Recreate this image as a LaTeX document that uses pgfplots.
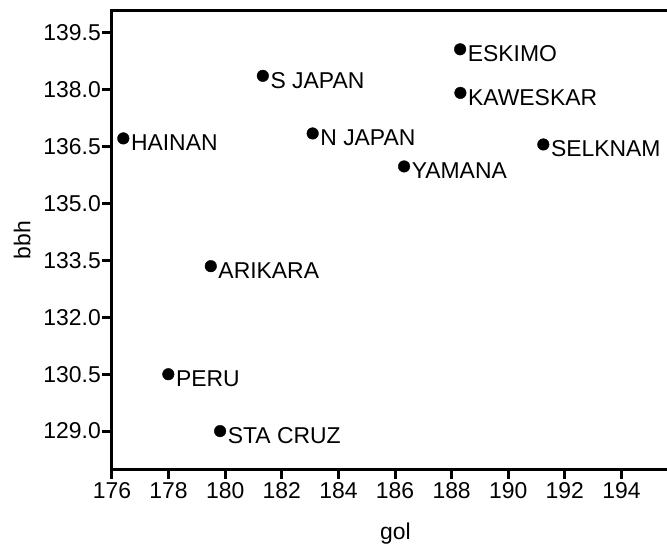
\documentclass[border=0pt]{standalone}
\usepackage{fontspec}
\setmainfont{Liberation Sans}
\usepackage{pgfplots}
\usepackage{pgfplotstable}
\pgfplotsset{compat=1.18}

% gol / bbh means per population
\pgfplotstableread[col sep=comma]{
x,y,label
176.40,136.72,HAINAN
181.33,138.37,S JAPAN
183.09,136.85,N JAPAN
188.30,139.07,ESKIMO
188.31,137.92,KAWESKAR
186.32,135.98,YAMANA
191.24,136.56,SELKNAM
179.49,133.35,ARIKARA
177.99,130.50,PERU
179.82,129.00,STA CRUZ
}\pops

\begin{document}
\begin{tikzpicture}[font=\fontsize{23}{27}\selectfont]
\begin{axis}[
  at={(0,0)}, anchor=south west,
  scale only axis,
  width=555bp, height=458bp,
  xmin=176, xmax=195.61,
  ymin=128.0, ymax=140.08,
  axis lines=left,
  axis line style={-, line width=3bp, black},
  tick align=outside,
  major tick length=10bp,
  tick style={line width=3bp, black},
  xtick={176,178,...,194},
  ytick={129,130.5,...,139.5},
  /pgf/number format/assume math mode=true,
  yticklabel style={inner sep=1bp, /pgf/number format/.cd, fixed, fixed zerofill, precision=1},
  xticklabel style={/pgf/number format/.cd, set thousands separator={}},
  xlabel={gol},
  ylabel={bbh},
  every axis x label/.style={at={(axis description cs:0.5,0)}, anchor=base, xshift=6bp, yshift=-70bp},
  every axis y label/.style={at={(axis description cs:-0.162,0.5)}, anchor=center, rotate=90},
  clip=false,
]
  \addplot[only marks, mark=*, mark size=5.8bp, black,
    nodes near coords, point meta=explicit symbolic,
    every node near coord/.style={anchor=base west, inner sep=0pt, xshift=7.5bp, yshift=-12.5bp, black}]
    table[x=x, y=y, meta=label] {\pops};
  \draw[line width=3bp, line cap=rect] (rel axis cs:0,1) -- (rel axis cs:1.02,1);
\end{axis}
\pgfresetboundingbox
\path[use as bounding box] (-112bp,-79bp) rectangle (555bp,469bp);
\end{tikzpicture}
\end{document}
